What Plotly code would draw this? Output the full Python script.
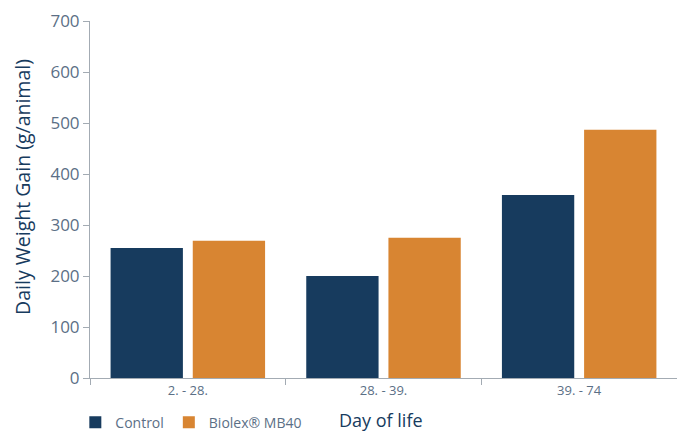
import plotly.graph_objects as go

categories = ["2. - 28.", "28. - 39.", "39. - 74"]
control = [255, 200, 359]
biolex = [269, 275, 487]
y_ticks = [0, 100, 200, 300, 400, 500, 600, 700]

NAVY = "#173b5e"
ORANGE = "#d88532"
TICK = "#5b6f86"
AXIS = "#a3abb3"
FONT = "Open Sans"

fig = go.Figure()
fig.add_trace(go.Bar(x=categories, y=control, name="Control", marker=dict(color=NAVY, line=dict(width=0))))
fig.add_trace(go.Bar(x=categories, y=biolex, name="Biolex® MB40", marker=dict(color=ORANGE, line=dict(width=0))))

fig.update_layout(
    width=677, height=432,
    margin=dict(l=90, r=0, t=21, b=54, autoexpand=False),
    paper_bgcolor="white", plot_bgcolor="white",
    barmode="group", bargap=0.16, bargroupgap=0.12,
    font=dict(family=FONT, color=TICK),
    showlegend=True,
    legend=dict(orientation="h", x=-0.025, xanchor="left", y=-0.08, yanchor="top",
                font=dict(size=14, color=TICK), itemwidth=30, traceorder="normal"),
    xaxis=dict(showline=True, linecolor=AXIS, linewidth=1, ticks="outside", tickson="boundaries",
               ticklen=6, tickcolor=AXIS, tickfont=dict(size=13, color=TICK), showgrid=False,
               zeroline=False, automargin=False),
    yaxis=dict(range=[0, 700], tickvals=y_ticks, showline=True, linecolor=AXIS, linewidth=1,
               ticks="outside", ticklen=6, tickcolor=AXIS, tickfont=dict(size=17, color=TICK),
               showgrid=False, zeroline=False, automargin=False),
    annotations=[
        dict(text="Day of life", x=0.496, y=-0.117, xref="paper", yref="paper", showarrow=False,
             xanchor="center", yanchor="middle", font=dict(size=18, color=NAVY, family=FONT)),
        dict(text="Daily Weight Gain (g/animal)", x=-0.116, y=0.535, xref="paper", yref="paper",
             showarrow=False, textangle=-90, xanchor="center", yanchor="middle",
             font=dict(size=19.5, color=NAVY, family=FONT)),
    ],
)

fig.write_html("out.html", config={"displayModeBar": False},
               post_script="document.body.style.margin='0';")
